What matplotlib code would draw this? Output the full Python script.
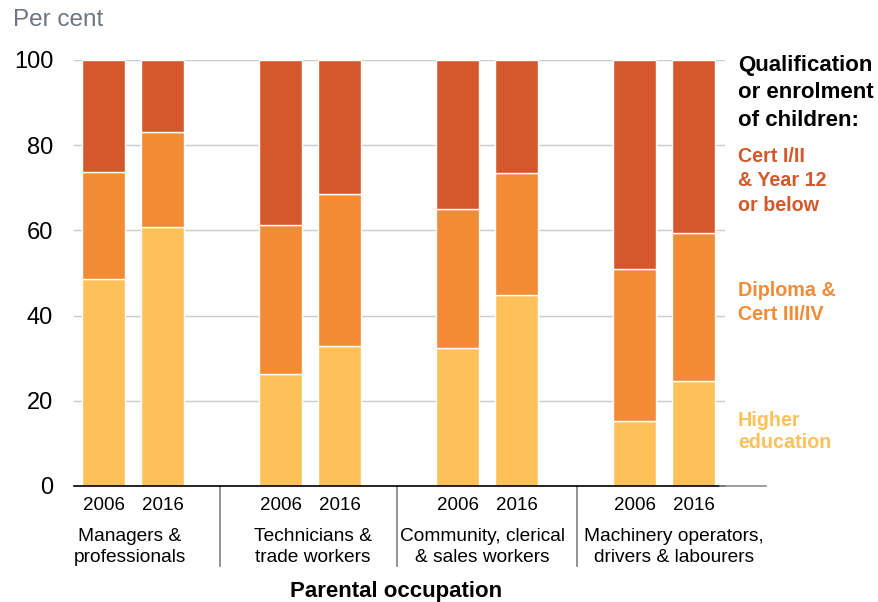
import matplotlib.pyplot as plt
from matplotlib.lines import Line2D

plt.rcParams['font.family'] = ['Liberation Sans', 'DejaVu Sans']

# datos
grupos = ['Managers &\nprofessionals', 'Technicians &\ntrade workers',
          'Community, clerical\n& sales workers', 'Machinery operators,\ndrivers & labourers']
anios = ['2006', '2016']
higher = [48.6, 60.8, 26.3, 32.9, 32.4, 44.8, 15.3, 24.6]
diploma = [25.1, 22.3, 35.0, 35.6, 32.6, 28.7, 35.6, 34.8]
cert = [26.3, 16.9, 38.7, 31.5, 35.0, 26.5, 49.1, 40.6]

c_cert = '#D4582B'
c_dip = '#F38B34'
c_high = '#FEC159'

W, H = 879, 602
fig = plt.figure(figsize=(W / 100, H / 100), dpi=100)
ax = fig.add_axes([74 / W, 1 - 486 / H, (725 - 74) / W, (486 - 60) / H])

xs = []
for g in range(len(grupos)):
    xs += [g * 3, g * 3 + 1]

ancho = 0.73
ax.bar(xs, higher, width=ancho, color=c_high, edgecolor='white', linewidth=1, zorder=2)
base = [h for h in higher]
ax.bar(xs, diploma, width=ancho, bottom=base, color=c_dip, edgecolor='white', linewidth=1, zorder=2)
base = [h + d for h, d in zip(higher, diploma)]
ax.bar(xs, cert, width=ancho, bottom=base, color=c_cert, edgecolor='white', linewidth=1, zorder=2)

ax.set_xlim(-0.5, 10.53)
ax.set_ylim(0, 100)
ax.set_yticks([0, 20, 40, 60, 80, 100])
ax.tick_params(axis='y', length=0, labelsize=17, pad=15)
ax.set_xticks([])
ax.grid(axis='y', color='#cbcbd0', linewidth=1, zorder=0)
for s in ['top', 'right', 'left']:
    ax.spines[s].set_visible(False)
ax.spines['bottom'].set_color('black')
ax.spines['bottom'].set_linewidth(1.2)
ax.spines['bottom'].set_zorder(3)

# etiquetas de anios y grupos
trans = ax.get_xaxis_transform()
for i, x in enumerate(xs):
    ax.text(x, -19 / 426, anios[i % 2], transform=trans, ha='center', va='center', fontsize=13.5)
ajuste = [-0.05, 0.05, -0.08, 0.17]  # el original no centra exacto
for g, nombre in enumerate(grupos):
    ax.text(g * 3 + 0.5 + ajuste[g], -61 / 426, nombre, transform=trans, ha='center', va='center',
            fontsize=13.8, linespacing=1.3)
for xsep in [1.97, 4.97, 8.02]:
    ax.add_line(Line2D([xsep, xsep], [0, -80 / 426], transform=trans, color='#7f7f7f',
                       linewidth=1.2, clip_on=False))

fig.add_artist(Line2D([720 / W, 766 / W], [1 - 486 / H, 1 - 486 / H], color='#8c8c8c', linewidth=1.2))

fig.text(396 / W, 1 - 592 / H, 'Parental occupation', ha='center', va='center',
         fontsize=16, fontweight='bold')
fig.text(13 / W, 1 - 20 / H, 'Per cent', ha='left', va='center', fontsize=17.5, color='#6b7680')

# leyenda a la derecha, linea por linea
leyenda = [
    ('Qualification', 66, 'black', 16),
    ('or enrolment', 93, 'black', 16),
    ('of children:', 120, 'black', 16),
    ('Cert I/II', 157, c_cert, 14.2),
    ('& Year 12', 181, c_cert, 14.2),
    ('or below', 205, c_cert, 14.2),
    ('Diploma &', 291, c_dip, 14.2),
    ('Cert III/IV', 314, c_dip, 14.2),
    ('Higher', 420, c_high, 14.2),
    ('education', 443, c_high, 14.2),
]
for texto, ypx, col, tam in leyenda:
    fig.text(738 / W, 1 - ypx / H, texto, ha='left', va='center', fontsize=tam,
             fontweight='bold', color=col)

fig.savefig('out.png', dpi=100)
